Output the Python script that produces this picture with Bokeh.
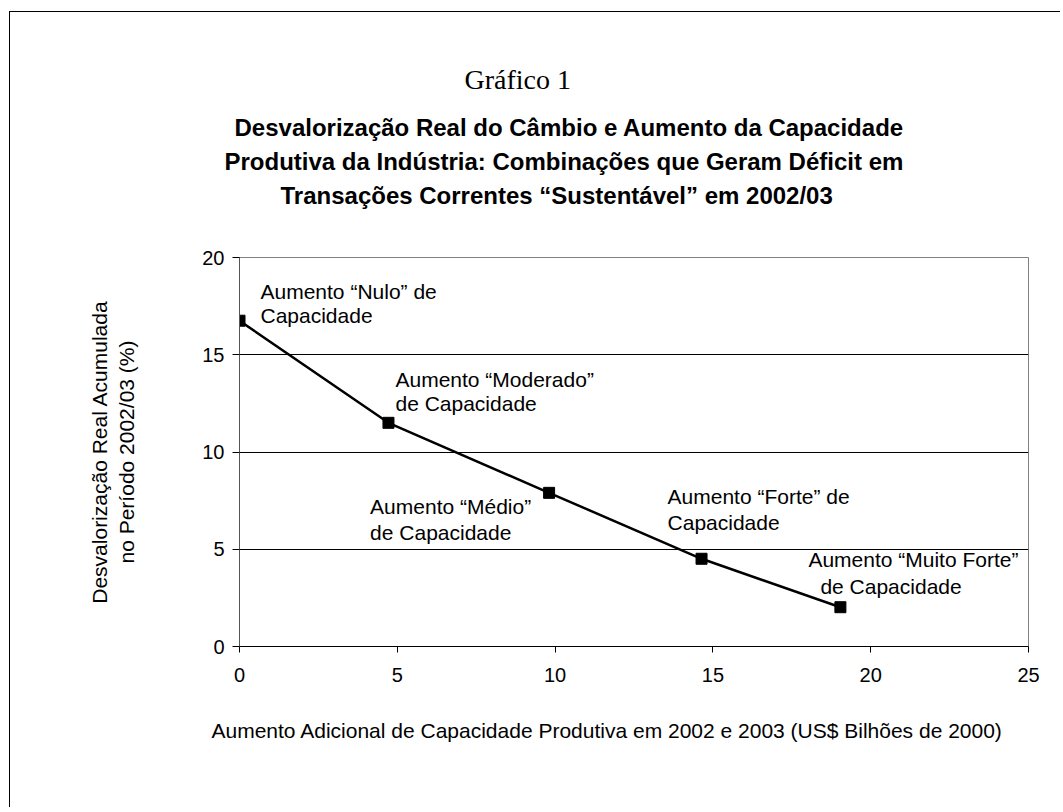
from bokeh.plotting import figure
from bokeh.models import Range1d, Label, Title, FixedTicker
from bokeh.embed import file_html
from bokeh.resources import INLINE

# ---- data ----
capacidade = [0.0, 4.72, 9.81, 14.64, 19.04]
desvalorizacao = [16.75, 11.5, 7.9, 4.51, 2.02]
x_ticks = [0, 5, 10, 15, 20, 25]
y_ticks = [0, 5, 10, 15, 20]
annotations = [
    ("Aumento \u201cNulo\u201d de", "Capacidade"),
    ("Aumento \u201cModerado\u201d", "de Capacidade"),
    ("Aumento \u201cM\u00e9dio\u201d", "de Capacidade"),
    ("Aumento \u201cForte\u201d de", "Capacidade"),
    ("Aumento \u201cMuito Forte\u201d", "de Capacidade"),
]
sup_title = "Gr\u00e1fico 1"
title_lines = [
    "Desvaloriza\u00e7\u00e3o Real do C\u00e2mbio e Aumento da Capacidade",
    "Produtiva da Ind\u00fastria: Combina\u00e7\u00f5es que Geram D\u00e9ficit em",
    "Transa\u00e7\u00f5es Correntes \u201cSustent\u00e1vel\u201d em 2002/03",
]
y_label = "Desvaloriza\u00e7\u00e3o Real Acumulada\nno Per\u00edodo 2002/03 (%)"
x_label = "Aumento Adicional de Capacidade Produtiva em 2002 e 2003 (US$ Bilh\u00f5es de 2000)"

# ---- layout / style ----
SANS = "Liberation Sans"
SERIF = "Liberation Serif"
# (dx line1, dy line1, dx line2, dy line2) pixel offsets of annotation text from its point
ann_offsets = [
    (21, 29, 21, 5),
    (7, 43, 7, 19),
    (-179, -14, -179, -40),
    (-34, 62, -34, 36),
    (-32, 48, -20, 21),
]
title_offsets = [-5, -15, 41]

p = figure(
    width=1050, height=795,
    frame_width=789, frame_height=389,
    min_border_left=229, min_border_right=32,
    min_border_top=245, min_border_bottom=161,
    x_range=Range1d(0, 25), y_range=Range1d(0, 20),
    output_backend="svg", toolbar_location=None,
    background_fill_color="white", border_fill_color="white",
)
p.styles = {"margin-left": "9px", "margin-top": "11px",
            "border-left": "1px solid black", "border-top": "1px solid black"}
p.outline_line_color = "#808080"
p.outline_line_width = 1

p.xgrid.visible = False
p.ygrid.ticker = FixedTicker(ticks=y_ticks)
p.ygrid.grid_line_color = "black"
p.ygrid.grid_line_width = 1

p.xaxis.ticker = FixedTicker(ticks=x_ticks)
p.yaxis.ticker = FixedTicker(ticks=y_ticks)
for ax in (p.xaxis[0], p.yaxis[0]):
    ax.major_tick_in = 0
    ax.minor_tick_line_color = None
    ax.major_label_text_font = SANS
    ax.major_label_text_font_size = "20px"
    ax.major_label_text_color = "black"
    ax.major_tick_line_color = "black"
p.xaxis.major_tick_out = 6
p.yaxis.major_tick_out = 7
p.xaxis.axis_line_color = "black"
p.xaxis.major_label_standoff = 15
p.yaxis.axis_line_color = "#555555"
p.yaxis.major_label_standoff = 8

p.yaxis.axis_label = y_label
p.yaxis.axis_label_text_font = SANS
p.yaxis.axis_label_text_font_size = "21px"
p.yaxis.axis_label_text_font_style = "normal"
p.yaxis.axis_label_text_color = "black"
p.yaxis.axis_label_text_line_height = 1.2
p.yaxis.axis_label_standoff = 61

p.line(capacidade, desvalorizacao, line_color="black", line_width=2.5)
p.scatter(capacidade, desvalorizacao, marker="square", size=11,
          fill_color="black", line_color="black")

for (l1, l2), (dx1, dy1, dx2, dy2), xv, yv in zip(annotations, ann_offsets, capacidade, desvalorizacao):
    for txt, ox, oy in ((l1, dx1, dy1), (l2, dx2, dy2)):
        p.add_layout(Label(x=xv, y=yv, x_offset=ox, y_offset=oy, text=txt,
                           text_font=SANS, text_font_size="21px",
                           text_align="left", text_baseline="alphabetic",
                           text_color="black"))

# titles above the frame (added from the frame outwards); first one is an empty spacer
p.add_layout(Title(text=" ", text_font=SANS, text_font_size="10px",
                   standoff=32.5), "above")
for t, off in zip(reversed(title_lines), reversed(title_offsets)):
    p.add_layout(Title(text=t, text_font=SANS, text_font_size="24px",
                       text_font_style="bold", text_color="black",
                       align="left", offset=off, standoff=4.5), "above")
p.add_layout(Title(text=sup_title, text_font=SERIF, text_font_size="28px",
                   text_font_style="normal", text_color="black",
                   align="left", offset=225, standoff=30), "above")

# x axis title
p.add_layout(Title(text=x_label, text_font=SANS, text_font_size="21px",
                   text_font_style="normal", text_color="black",
                   align="left", offset=-28, standoff=64), "below")

open("out.html", "w").write(file_html(p, INLINE))
